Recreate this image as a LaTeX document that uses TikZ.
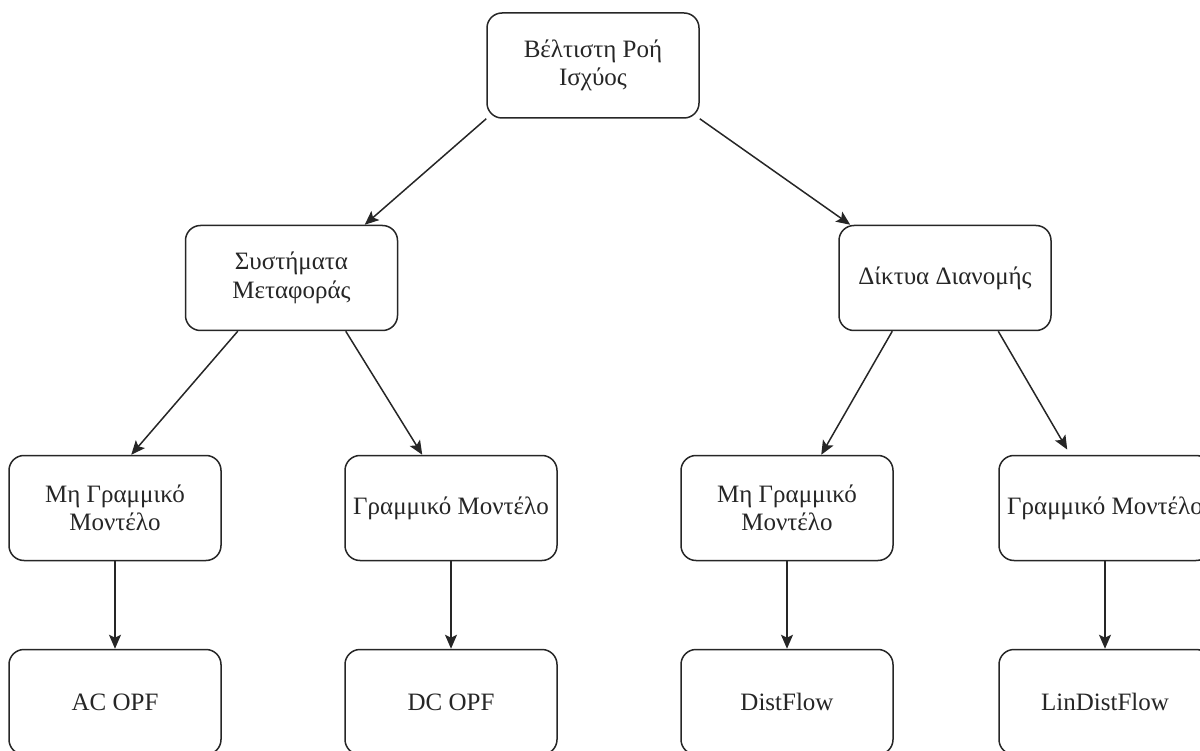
\documentclass[tikz,border=0pt]{standalone}
\usepackage{fontspec}
\setmainfont{Liberation Serif}
\usetikzlibrary{arrows.meta}
\tikzset{
  box/.style={draw=black!85, line width=1.5pt, rounded corners=15pt, fill=white,
    minimum width=212pt, minimum height=105pt, align=center, text=black!85,
    font=\fontsize{25}{28.5}\selectfont, inner sep=2pt},
  link/.style={draw=black!85, line width=1.5pt,
    -{Stealth[length=14pt,width=12pt,inset=3pt]}}
}
\begin{document}
\begin{tikzpicture}[x=1pt,y=-1pt]
\useasboundingbox (0,0) rectangle (1200,751);
% root
\node[box] (root) at (593,65.5) {Βέλτιστη Ροή\\Ισχύος};
% second level
\node[box] (trans) at (291.5,278) {Συστήματα\\Μεταφοράς};
\node[box] (dist) at (945,278) {Δίκτυα Διανομής};
% model level
\node[box] (tnl) at (115,508) {Μη Γραμμικό\\Μοντέλο};
\node[box] (tl) at (451,508) {Γραμμικό Μοντέλο};
\node[box] (dnl) at (787,508) {Μη Γραμμικό\\Μοντέλο};
\node[box] (dl) at (1105,508) {Γραμμικό Μοντέλο};
% formulations
\node[box] (acopf) at (115,702) {AC OPF};
\node[box] (dcopf) at (451,702) {DC OPF};
\node[box] (distflow) at (787,702) {DistFlow};
\node[box] (lindist) at (1105,702) {LinDistFlow};
% connectors
\draw[link] (root.south west) -- ([xshift=180pt]trans.north west);
\draw[link] (root.south east) -- ([xshift=12pt]dist.north west);
\draw[link] ([xshift=53pt]trans.south west) -- ([xshift=123pt]tnl.north west);
\draw[link] ([xshift=161pt]trans.south west) -- ([xshift=78pt]tl.north west);
\draw[link] ([xshift=54pt]dist.south west) -- ([xshift=141pt]dnl.north west);
\draw[link, shorten >=6pt] ([xshift=160pt]dist.south west) -- ([xshift=72pt]dl.north west);
\draw[link] (tnl.south) -- (acopf.north);
\draw[link] (tl.south) -- (dcopf.north);
\draw[link] (dnl.south) -- (distflow.north);
\draw[link] (dl.south) -- (lindist.north);
\end{tikzpicture}
\end{document}
